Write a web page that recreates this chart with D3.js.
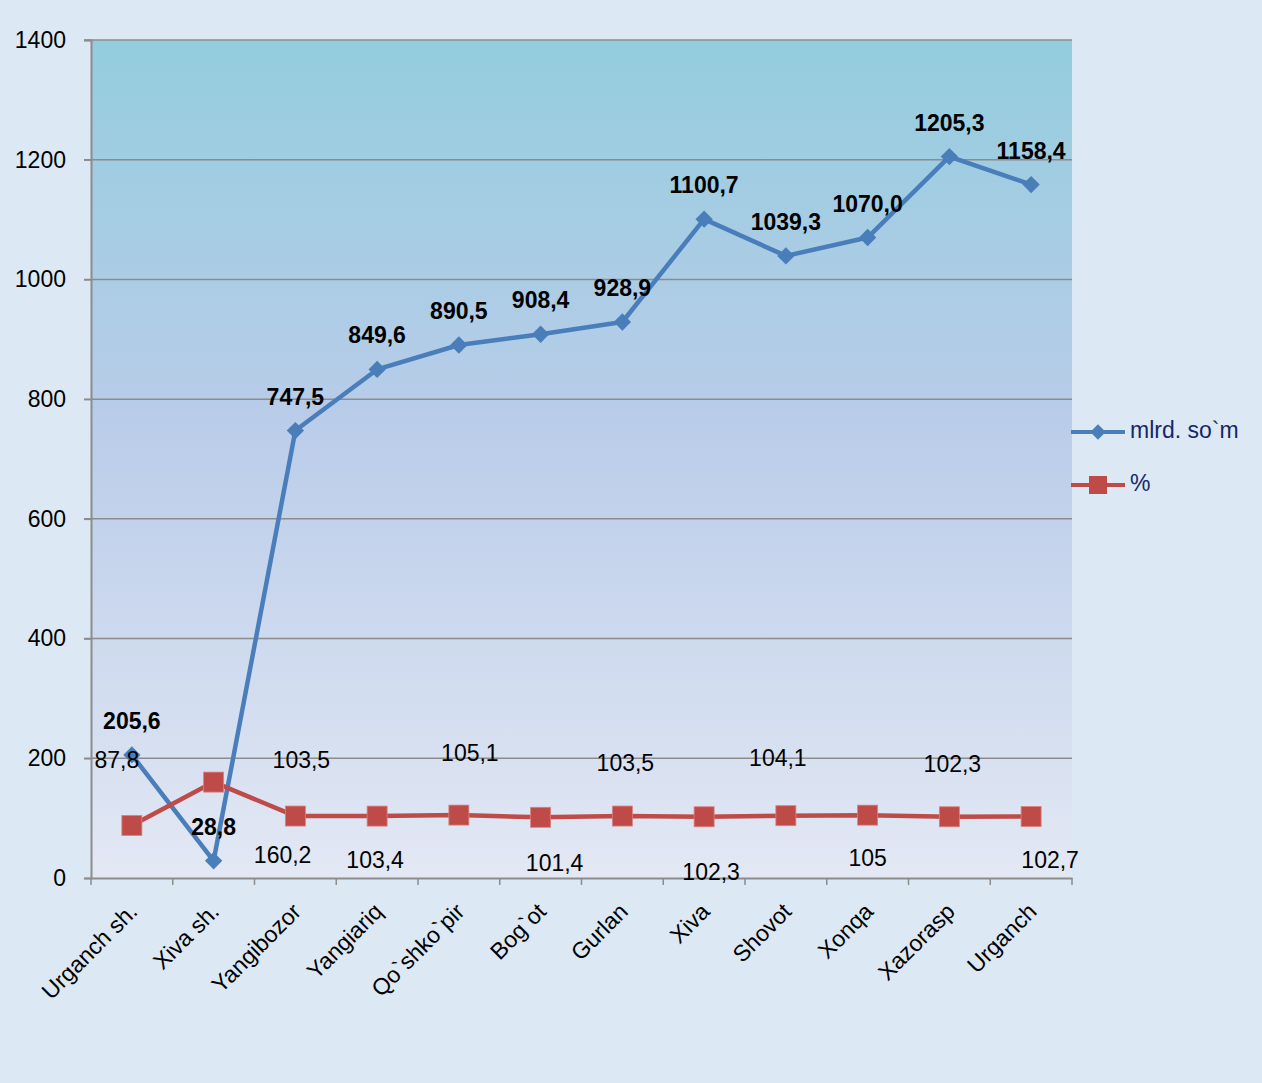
<!DOCTYPE html>
<html><head><meta charset="utf-8">
<script src="https://cdn.jsdelivr.net/npm/d3@7"></script>
<style>
html,body{margin:0;padding:0;background:#dce8f4;}
svg{display:block;}
</style></head>
<body>
<svg id="chart" width="1262" height="1083"></svg>
<script>
const categories = ["Urganch sh.","Xiva sh.","Yangibozor","Yangiariq","Qo`shko`pir","Bog`ot","Gurlan","Xiva","Shovot","Xonqa","Xazorasp","Urganch"];
const mlrdSom = [205.6, 28.8, 747.5, 849.6, 890.5, 908.4, 928.9, 1100.7, 1039.3, 1070.0, 1205.3, 1158.4];
const mlrdLabels = ["205,6","28,8","747,5","849,6","890,5","908,4","928,9","1100,7","1039,3","1070,0","1205,3","1158,4"];
const percent = [87.8, 160.2, 103.5, 103.4, 105.1, 101.4, 103.5, 102.3, 104.1, 105, 102.3, 102.7];
const percentLabels = ["87,8","160,2","103,5","103,4","105,1","101,4","103,5","102,3","104,1","105","102,3","102,7"];
const yTicks = [0,200,400,600,800,1000,1200,1400];
const seriesNames = ["mlrd. so`m","%"];

// layout nudges for % labels (dx, dy in px)
const pctNudge = [[-15,-64],[69,75],[6,-54],[-2,46],[11,-60],[14,48],[3,-51],[7,57],[-8,-56],[0,45],[3,-51],[19,45]];

const FONT = "Liberation Sans, Arial, sans-serif";
const svg = d3.select("#chart");
const W = 1262, H = 1083;
const m = {left:91, right:190, top:40, bottom:205};
const pw = W - m.left - m.right;
const ph = H - m.top - m.bottom;

const defs = svg.append("defs");
const pg = defs.append("linearGradient").attr("id","plotbg").attr("x1",0).attr("y1",0).attr("x2",0).attr("y2",1);
pg.append("stop").attr("offset","0%").attr("stop-color","#93cddd");
pg.append("stop").attr("offset","45%").attr("stop-color","#b9cce9");
pg.append("stop").attr("offset","100%").attr("stop-color","#e3e8f4");

svg.append("rect").attr("width",W).attr("height",H).attr("fill","#dce8f4");

const x = d3.scaleBand().domain(categories).range([m.left, m.left+pw]).padding(0);
const y = d3.scaleLinear().domain([0,1400]).range([m.top+ph, m.top]);

svg.append("rect").attr("x",m.left).attr("y",m.top).attr("width",pw).attr("height",ph).attr("fill","url(#plotbg)");

svg.append("g").selectAll("line").data(yTicks.filter(d=>d>0)).join("line")
  .attr("x1",m.left-7).attr("x2",m.left+pw)
  .attr("y1",d=>y(d)).attr("y2",d=>y(d))
  .attr("stroke","#8c8c8c").attr("stroke-width",1.5);

const yAxis = svg.append("g").attr("transform",`translate(${m.left},0)`)
  .call(d3.axisLeft(y).tickValues(yTicks).tickSize(7).tickPadding(18).tickFormat(d3.format("d")));
yAxis.select(".domain").attr("stroke","#8c8c8c").attr("stroke-width",2);
yAxis.selectAll(".tick line").attr("stroke","#8c8c8c").attr("stroke-width",1.5);
yAxis.selectAll("text").attr("font-family",FONT).attr("font-size",23).attr("fill","#000");

const xAxis = svg.append("g").attr("transform",`translate(0,${m.top+ph})`)
  .call(d3.axisBottom(x).tickSize(0).tickFormat(""));
xAxis.select(".domain").attr("stroke","#8c8c8c").attr("stroke-width",2);
const bounds = categories.map(c=>x(c)).concat([m.left+pw]);
svg.append("g").selectAll("line").data(bounds).join("line")
  .attr("x1",d=>d).attr("x2",d=>d).attr("y1",m.top+ph).attr("y2",m.top+ph+7)
  .attr("stroke","#8c8c8c").attr("stroke-width",1.5);

svg.append("g").selectAll("text").data(categories).join("text")
  .attr("transform",d=>`translate(${x(d)+x.bandwidth()/2+7},${m.top+ph+35}) rotate(-45)`)
  .attr("text-anchor","end")
  .attr("font-family",FONT).attr("font-size",23).attr("fill","#000")
  .text(d=>d);

const cx = (d,i)=>x(categories[i])+x.bandwidth()/2;

const blue = "#4a7ebb", red = "#be4b48";
const lineB = d3.line().x((d,i)=>cx(d,i)).y(d=>y(d));
svg.append("path").datum(mlrdSom).attr("d",lineB).attr("fill","none").attr("stroke",blue).attr("stroke-width",4.5).attr("stroke-linejoin","round");
svg.append("path").datum(percent).attr("d",lineB).attr("fill","none").attr("stroke",red).attr("stroke-width",4.5).attr("stroke-linejoin","round");

svg.append("g").selectAll("path").data(mlrdSom).join("path")
  .attr("transform",(d,i)=>`translate(${cx(d,i)},${y(d)}) rotate(45)`)
  .attr("d",d3.symbol().type(d3.symbolSquare).size(150)())
  .attr("fill",blue);
svg.append("g").selectAll("rect").data(percent).join("rect")
  .attr("x",(d,i)=>cx(d,i)-10).attr("y",d=>y(d)-10).attr("width",20).attr("height",20)
  .attr("fill",red).attr("stroke","#d9827f").attr("stroke-width",0.8);

svg.append("g").selectAll("text").data(mlrdSom).join("text")
  .attr("x",(d,i)=>cx(d,i)).attr("y",d=>y(d)-26)
  .attr("text-anchor","middle")
  .attr("font-family",FONT).attr("font-size",23).attr("font-weight","bold").attr("fill","#000")
  .text((d,i)=>mlrdLabels[i]);

svg.append("g").selectAll("text").data(percent).join("text")
  .attr("x",(d,i)=>cx(d,i)+pctNudge[i][0]).attr("y",(d,i)=>y(d)+pctNudge[i][1])
  .attr("text-anchor","middle").attr("dominant-baseline","middle")
  .attr("font-family",FONT).attr("font-size",23).attr("fill","#000")
  .text((d,i)=>percentLabels[i]);

const lg = svg.append("g");
const lgItems = [{name:seriesNames[0],color:blue,shape:"d"},{name:seriesNames[1],color:red,shape:"s"}];
lgItems.forEach((it,i)=>{
  const ly = 432 + i*53;
  lg.append("line").attr("x1",1071).attr("x2",1125).attr("y1",ly).attr("y2",ly).attr("stroke",it.color).attr("stroke-width",4);
  if(it.shape==="d"){
    lg.append("path").attr("transform",`translate(1098,${ly}) rotate(45)`).attr("d",d3.symbol().type(d3.symbolSquare).size(120)()).attr("fill",it.color);
  } else {
    lg.append("rect").attr("x",1089).attr("y",ly-9).attr("width",18).attr("height",18).attr("fill",it.color);
  }
  lg.append("text").attr("x",1130).attr("y",ly).attr("dominant-baseline","middle")
    .attr("font-family",FONT).attr("font-size",23).attr("fill","#13286a")
    .text(it.name);
});
</script>
</body></html>
